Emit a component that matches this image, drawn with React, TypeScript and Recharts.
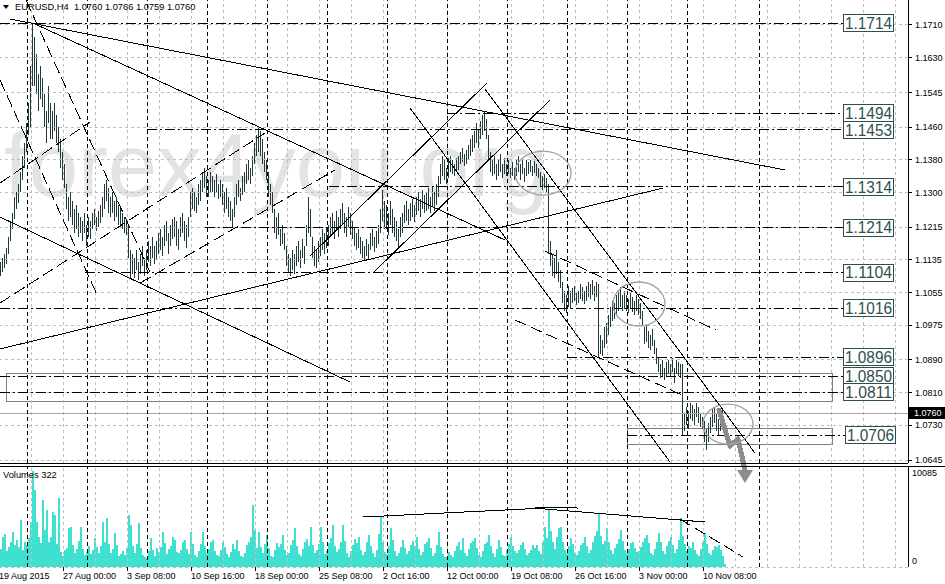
import React from 'react';
import { ComposedChart, Bar, XAxis, YAxis, ReferenceLine, ReferenceArea, ReferenceDot } from 'recharts';

const FONT = '"Liberation Sans", Arial, Helvetica, sans-serif';

// ---------- DATA (prices in 1/10000, H4 bars, index k) ----------
const highs = [
  11135,11130,11140,11150,11165,11190,11230,11250,11290,11300,
  11320,11350,11390,11420,11470,11520,11610,11714,11680,11640,
  11590,11610,11580,11540,11500,11560,11520,11500,11520,11490,
  11460,11430,11400,11370,11320,11290,11300,11280,11260,11270,
  11250,11240,11230,11250,11220,11240,11230,11250,11260,11240,
  11255,11270,11290,11320,11330,11310,11290,11300,11280,11290,
  11270,11260,11250,11240,11230,11220,11160,11150,11140,11160,
  11130,11150,11170,11140,11160,11180,11170,11190,11170,11180,
  11200,11210,11190,11220,11230,11200,11220,11235,11240,11230,
  11210,11240,11250,11230,11220,11240,11300,11310,11300,11290,
  11320,11330,11350,11360,11340,11330,11350,11340,11330,11345,
  11320,11330,11320,11300,11310,11290,11280,11260,11290,11320,
  11330,11310,11340,11350,11370,11380,11360,11390,11420,11440,
  11458,11450,11430,11400,11380,11350,11320,11300,11260,11240,
  11250,11210,11220,11200,11170,11150,11140,11160,11150,11170,
  11180,11160,11185,11170,11220,11290,11260,11190,11170,11160,
  11180,11190,11210,11200,11215,11220,11240,11250,11230,11255,
  11240,11260,11275,11250,11240,11265,11250,11230,11215,11200,
  11210,11190,11180,11170,11185,11175,11200,11210,11190,11205,
  11220,11260,11306,11280,11270,11250,11280,11260,11240,11230,
  11210,11240,11250,11270,11280,11260,11275,11285,11270,11290,
  11300,11285,11305,11295,11300,11310,11290,11315,11300,11320,
  11340,11370,11390,11380,11360,11385,11390,11380,11370,11385,
  11390,11400,11410,11395,11405,11415,11430,11440,11450,11470,
  11455,11475,11490,11497,11480,11440,11400,11380,11390,11370,
  11380,11395,11370,11385,11370,11380,11360,11375,11360,11380,
  11390,11370,11385,11360,11380,11375,11380,11365,11378,11370,
  11360,11350,11340,11345,11335,11320,11180,11150,11140,11160,
  11130,11110,11080,11060,11050,11070,11060,11065,11070,11055,
  11060,11075,11068,11060,11070,11080,11075,11086,11070,11080,
  11075,10950,10940,10970,10980,11000,11020,11035,11030,11050,
  11060,11069,11050,11060,11050,11040,11055,11045,11035,11050,
  11040,11030,11010,10970,10975,10960,10950,10965,10940,10920,
  10895,10880,10890,10870,10885,10890,10880,10895,10870,10890,
  10885,10880,10880,10760,10775,10765,10785,10780,10770,10785,
  10775,10760,10750,10740,10720,10735,10750,10770,10775,10760,
  10745,10765,10770,10766,
];
const lows = [
  11100,11095,11105,11115,11125,11150,11180,11210,11235,11260,
  11275,11300,11330,11360,11400,11440,11460,11560,11560,11540,
  11500,11530,11510,11460,11420,11470,11430,11430,11450,11420,
  11400,11360,11330,11310,11260,11230,11240,11220,11200,11210,
  11190,11200,11180,11200,11170,11190,11185,11210,11220,11205,
  11215,11225,11240,11260,11280,11250,11240,11250,11230,11240,
  11220,11215,11210,11200,11195,11140,11090,11100,11090,11110,
  11086,11100,11120,11095,11110,11130,11120,11140,11125,11135,
  11150,11160,11145,11170,11180,11150,11170,11185,11190,11170,
  11160,11190,11200,11180,11165,11190,11240,11260,11255,11250,
  11270,11280,11300,11310,11290,11290,11300,11300,11290,11300,
  11285,11290,11270,11250,11260,11240,11230,11215,11240,11270,
  11290,11280,11295,11300,11320,11330,11320,11340,11370,11390,
  11400,11390,11370,11350,11330,11290,11270,11250,11200,11185,
  11195,11170,11175,11160,11120,11105,11095,11110,11100,11120,
  11130,11115,11140,11125,11170,11200,11190,11140,11120,11115,
  11130,11145,11160,11150,11165,11170,11190,11200,11185,11205,
  11190,11210,11220,11200,11190,11215,11195,11185,11170,11160,
  11165,11150,11140,11135,11145,11138,11160,11170,11155,11165,
  11175,11200,11230,11210,11210,11195,11220,11200,11190,11180,
  11167,11190,11200,11225,11230,11220,11230,11240,11228,11245,
  11255,11240,11260,11250,11255,11260,11250,11265,11255,11270,
  11290,11320,11340,11330,11320,11335,11350,11345,11340,11350,
  11355,11370,11375,11365,11370,11380,11390,11400,11410,11420,
  11410,11430,11440,11450,11430,11380,11350,11340,11345,11330,
  11340,11350,11335,11345,11340,11345,11335,11340,11330,11340,
  11350,11330,11345,11325,11340,11345,11350,11340,11348,11340,
  11335,11315,11306,11310,11300,11150,11120,11095,11090,11100,
  11080,11065,11030,11010,11005,11020,11015,11030,11035,11025,
  11030,11040,11035,11028,11035,11045,11040,11050,11035,11045,
  10896,10905,10900,10920,10930,10950,10970,10985,10990,11000,
  11010,11020,11010,11015,11010,11005,11015,11008,11000,11010,
  11000,10990,10975,10930,10935,10920,10915,10925,10905,10880,
  10860,10845,10850,10840,10850,10855,10850,10860,10834,10855,
  10850,10845,10705,10715,10730,10720,10745,10740,10730,10750,
  10735,10726,10720,10690,10670,10690,10710,10725,10735,10715,
  10705,10715,10730,10759,
];
const volumes = [
  2500,1900,3200,3500,1700,2100,2600,3700,2300,2800,
  2100,4935,1800,2600,2300,3000,4760,10085,8050,4760,
  3100,2500,7035,3900,5985,2600,3200,5810,5460,2400,
  7210,1600,1200,1800,2000,4060,4235,2300,1500,1900,
  2700,4235,1900,1300,1600,2200,1400,1800,3010,2100,
  1500,2200,4760,2600,5110,2400,1500,1900,3535,2300,
  1200,1400,1700,1300,2000,5460,4410,2200,1500,2400,
  4585,2000,1300,1000,900,1700,3010,1800,1200,2000,
  1600,2100,3700,2500,1400,1900,2200,3200,2835,1600,
  1500,1800,2600,2835,1900,1400,3710,2400,1300,1100,
  1700,2400,3710,2200,1500,1900,2600,2835,1700,1300,
  1200,1800,2660,2100,1400,1100,1600,2400,1900,2835,
  1700,1200,1000,1500,2300,2600,3100,6510,3900,2000,
  3710,2100,1500,2400,3360,2000,1200,1000,1800,2500,
  2100,2400,3360,1800,1300,1500,2300,2800,4060,2200,
  1400,1200,1900,2600,2900,2200,4235,2300,1500,1800,
  2400,4235,2600,1400,1700,2500,3000,4410,2200,1600,
  1900,2600,4410,2700,1500,1100,1700,2300,2900,2500,
  3185,1800,1300,1600,2600,3360,2200,1500,1100,1800,
  3500,5285,2600,1600,1400,2200,4060,2800,1700,1200,
  1500,2100,2835,2000,1400,1700,2300,2700,2200,3185,
  1900,1300,1600,2400,2600,3010,2000,1200,1500,2300,
  3710,2100,1400,1100,1000,1610,1300,1100,1700,2200,
  2600,1800,3010,1500,1200,1900,2500,2700,3010,2000,
  1300,1100,1700,2400,2600,3360,2200,1500,1100,1900,
  2835,2100,1300,1200,1800,2400,3100,2200,1700,1500,
  1800,2300,2660,1900,1300,1500,1800,2300,2000,2310,
  1700,1400,2600,4235,3000,5985,3800,2600,1900,3200,
  4060,4235,2600,1800,1500,2200,3010,2400,1500,1300,
  1700,2300,2500,3185,2200,1500,1800,2600,3300,3800,
  5635,3300,2400,2700,4060,2600,1800,1400,2000,2400,
  2900,3885,2700,1800,1500,1900,2500,2660,2000,1600,
  1700,2100,2600,3000,3360,2500,1500,1300,1900,2600,
  3535,2600,1700,1400,2200,2700,3185,2300,1500,1900,
  2800,5110,3300,2400,1700,2200,2000,2660,1800,1400,
  1200,1900,2600,3535,2400,1500,1300,1800,2200,2135,
  2300,1800,1200,322,
];
const timeLabels = ['19 Aug 2015','27 Aug 00:00','3 Sep 08:00','10 Sep 16:00','18 Sep 00:00','25 Sep 08:00','2 Oct 16:00','12 Oct 00:00','19 Oct 08:00','26 Oct 16:00','3 Nov 00:00','10 Nov 08:00'];
const timeLabelKs = [0,32,64,96,128,160,192,224,256,288,320,352];
const priceTicks = [1.1710,1.1630,1.1545,1.1460,1.1380,1.1300,1.1215,1.1135,1.1055,1.0975,1.0890,1.0810,1.0730,1.0645];
const volumeTicks = [0, 10085];
const gridKs = [16,32,48,64,80,96,112,128,144,160,176,192,208,224,240,256,272,288,304,320,336,352,368,384,400,416,432,448];
const weekKs = [14,44,74,104,134,164,194,224,254,284,314,344,380];
const headerQuote = { symbol: 'EURUSD,H4', open: 1.0760, high: 1.0766, low: 1.0759, close: 1.0760 };
const lastPrice = 1.0760;
const lastVolume = 322;

const levelPrices = [1.1714,1.1494,1.1453,1.1314,1.1214,1.1104,1.1016,1.0896,1.0850,1.0811,1.0706];
const levelStartK = [0.5,224,74,165,103,43,0.5,284,0.5,0.5,314];
const levelEndK = [422,422,422,422,422,422,422,422,422,422,423];

const trendLines = [
  { k1: 5.5, p1: 1.17247, k2: 393, p2: 1.13550, dash: false },
  { k1: 18, p1: 1.17124, k2: 253, p2: 1.11836, dash: false },
  { k1: 0.5, p1: 1.09168, k2: 332, p2: 1.13109, dash: false },
  { k1: 0.5, p1: 1.12399, k2: 175.5, p2: 1.08360, dash: false },
  { k1: 187, p1: 1.11028, k2: 275.5, p2: 1.15264, dash: false },
  { k1: 155.5, p1: 1.11444, k2: 244, p2: 1.15680, dash: false },
  { k1: 205.5, p1: 1.15068, k2: 335.5, p2: 1.06401, dash: false },
  { k1: 243, p1: 1.15533, k2: 378, p2: 1.06621, dash: false },
  { k1: 0.5, p1: 1.15753, k2: 49.5, p2: 1.10441, dash: true },
  { k1: 13.5, p1: 1.17712, k2: 75.5, p2: 1.11053, dash: true },
  { k1: 0.5, p1: 1.13232, k2: 45.5, p2: 1.14725, dash: true },
  { k1: 0.5, p1: 1.10294, k2: 133, p2: 1.14456, dash: true },
  { k1: 70.5, p1: 1.10783, k2: 168, p2: 1.13550, dash: true },
  { k1: 273, p1: 1.11567, k2: 358.5, p2: 1.09633, dash: true },
  { k1: 258, p1: 1.09878, k2: 341.5, p2: 1.08041, dash: true },
];
const zones = [
  { k1: 3.5, k2: 416.5, p1: 1.07894, p2: 1.08580 },
  { k1: 314, k2: 416.5, p1: 1.06842, p2: 1.07233 },
];
const circleCenters = [
  { k: 272, p: 1.13476 },
  { k: 320, p: 1.10269 },
  { k: 364.5, p: 1.07331 },
];
const arrowPoints = [
  { k: 360, p: 1.07674 },
  { k: 365.5, p: 1.06793 },
  { k: 369.5, p: 1.06964 },
  { k: 373, p: 1.06205 },
];
const volumeLines = [
  { k1: 182, v1: 5250, k2: 273, v2: 6195, dash: false },
  { k1: 268, v1: 6300, k2: 289.5, v2: 6195, dash: false },
  { k1: 273, v1: 6090, k2: 353, v2: 4725, dash: false },
  { k1: 340.5, v1: 5040, k2: 372, v2: 1050, dash: true },
];

// ---------- STYLE ----------
const X_DOMAIN: [number, number] = [0.5, 454.5];
const P_DOMAIN: [number, number] = [1.06377, 1.17712];
const V_DOMAIN: [number, number] = [0, 10610];
const ELLIPSE_R = [[28, 22], [26, 22], [25, 20]];
const BAR_COLOR = '#1f3a3a';
const VOL_COLOR = '#40e0d0';
const GRID = '#c0c0c0';
const BOX = '#2f4f4f';

const TimeTick = (props: any) => {
  const { x, y, payload } = props;
  const idx = timeLabelKs.indexOf(payload.value);
  return (
    <text x={x} y={y} dy="0.71em" textAnchor="start" fontSize={9} fontFamily={FONT} fill="#000">
      {timeLabels[idx]}
    </text>
  );
};

const VolTick = (props: any) => {
  const { x, y, payload } = props;
  const dy = payload.value === 0 ? -6 : 2;
  return (
    <text x={x} y={y + dy} dy="0.355em" textAnchor="start" fontSize={9} fontFamily={FONT} fill="#000">
      {String(payload.value)}
    </text>
  );
};

function MainChart() {
  const data = highs.map((h, i) => ({ k: i, hl: [lows[i] / 10000, h / 10000] }));
  return (
    <ComposedChart width={945} height={490} data={data} margin={{ top: 0, right: 0, bottom: 27, left: 0 }}>
      <XAxis dataKey="k" type="number" domain={X_DOMAIN} allowDataOverflow hide />
      <YAxis
        orientation="right"
        width={37}
        domain={P_DOMAIN}
        allowDataOverflow
        ticks={priceTicks}
        interval={0}
        tickFormatter={(v: number) => v.toFixed(4)}
        tick={{ fontSize: 9, fill: '#000', fontFamily: FONT }}
        tickSize={4}
        tickMargin={3}
        axisLine={{ stroke: '#000' }}
        tickLine={{ stroke: '#000' }}
      />
      {priceTicks.map((p) => (
        <ReferenceLine key={'hg' + p} y={p} stroke={GRID} strokeDasharray="3 3" ifOverflow="hidden" />
      ))}
      {gridKs.map((k) => (
        <ReferenceLine key={'vg' + k} x={k} stroke={GRID} strokeDasharray="3 3" ifOverflow="hidden" />
      ))}
      <ReferenceLine y={lastPrice} stroke="#a8a8a8" ifOverflow="hidden" />
      <Bar dataKey="hl" barSize={1} fill={BAR_COLOR} isAnimationActive={false} />
      {weekKs.map((k) => (
        <ReferenceLine key={'wk' + k} x={k} stroke="#000" strokeDasharray="4 3" ifOverflow="hidden" />
      ))}
      {zones.map((z, i) => (
        <ReferenceArea key={'z' + i} x1={z.k1} x2={z.k2} y1={z.p1} y2={z.p2} fill="none" fillOpacity={0} stroke="#808080" strokeWidth={1} ifOverflow="hidden" />
      ))}
      {levelPrices.map((p, i) => (
        <ReferenceLine
          key={'lv' + i}
          segment={[{ x: levelStartK[i], y: p }, { x: levelEndK[i], y: p }]}
          stroke="#000"
          strokeDasharray="10 3 2 3"
          ifOverflow="hidden"
        />
      ))}
      {trendLines.map((t, i) => (
        <ReferenceLine
          key={'tl' + i}
          segment={[{ x: t.k1, y: t.p1 }, { x: t.k2, y: t.p2 }]}
          stroke="#000"
          strokeWidth={1}
          strokeDasharray={t.dash ? '12 5' : undefined}
          ifOverflow="hidden"
        />
      ))}
      {circleCenters.map((c, i) => (
        <ReferenceDot
          key={'c' + i}
          x={c.k}
          y={c.p}
          ifOverflow="visible"
          shape={(props: any) => (
            <ellipse cx={props.cx} cy={props.cy} rx={ELLIPSE_R[i][0]} ry={ELLIPSE_R[i][1]} fill="none" stroke="#a0a0a0" strokeWidth={1.3} />
          )}
        />
      ))}
      {arrowPoints.slice(1).map((pt, i) => (
        <ReferenceLine
          key={'ar' + i}
          segment={[{ x: arrowPoints[i].k, y: arrowPoints[i].p }, { x: pt.k, y: pt.p }]}
          stroke="#8c8c8c"
          strokeWidth={5}
          strokeLinecap="round"
          ifOverflow="visible"
        />
      ))}
      <ReferenceDot
        x={arrowPoints[arrowPoints.length - 1].k}
        y={arrowPoints[arrowPoints.length - 1].p}
        ifOverflow="visible"
        shape={(props: any) => (
          <polygon
            points={`${props.cx - 8},${props.cy} ${props.cx + 8},${props.cy} ${props.cx},${props.cy + 13}`}
            fill="#8c8c8c"
          />
        )}
      />
      {levelPrices.map((p, i) => (
        <ReferenceDot
          key={'bx' + i}
          x={levelEndK[i]}
          y={p}
          ifOverflow="visible"
          shape={(props: any) => (
            <g>
              <rect x={props.cx} y={props.cy - 8.5} width={50} height={17} fill="#fff" stroke={BOX} strokeWidth={1} />
              <text
                x={props.cx + 2}
                y={props.cy}
                dy="0.36em"
                fontSize={16}
                fontFamily={FONT}
                fill={BOX}
                textLength={47}
                lengthAdjust="spacingAndGlyphs"
              >
                {p.toFixed(4)}
              </text>
            </g>
          )}
        />
      ))}
      <ReferenceDot
        x={X_DOMAIN[1]}
        y={lastPrice}
        ifOverflow="visible"
        shape={(props: any) => (
          <g>
            <rect x={props.cx + 1} y={props.cy - 6} width={37} height={12} fill="#000" />
            <text x={props.cx + 6} y={props.cy} dy="0.355em" fontSize={9} fontFamily={FONT} fill="#fff">
              {lastPrice.toFixed(4)}
            </text>
          </g>
        )}
      />
    </ComposedChart>
  );
}

function VolumeChart() {
  const data = volumes.map((v, i) => ({ k: i, v }));
  return (
    <ComposedChart width={945} height={118} data={data} margin={{ top: 0, right: 0, bottom: 0, left: 0 }}>
      <XAxis
        dataKey="k"
        type="number"
        domain={X_DOMAIN}
        allowDataOverflow
        ticks={timeLabelKs}
        interval={0}
        tick={TimeTick}
        tickSize={4}
        tickMargin={2}
        height={17}
        axisLine={false}
        tickLine={{ stroke: '#000' }}
      />
      <YAxis
        orientation="right"
        width={37}
        domain={V_DOMAIN}
        allowDataOverflow
        ticks={volumeTicks}
        interval={0}
        tick={VolTick}
        tickSize={4}
        tickMargin={0}
        tickLine={false}
        axisLine={{ stroke: '#000' }}
      />
      {gridKs.map((k) => (
        <ReferenceLine key={'vg' + k} x={k} stroke={GRID} strokeDasharray="3 3" ifOverflow="hidden" />
      ))}
      <ReferenceLine y={0} stroke={GRID} strokeDasharray="3 3" ifOverflow="visible" />
      <Bar dataKey="v" barSize={2} fill={VOL_COLOR} isAnimationActive={false} />
      {weekKs.map((k) => (
        <ReferenceLine key={'wk' + k} x={k} stroke="#000" strokeDasharray="4 3" ifOverflow="hidden" />
      ))}
      {volumeLines.map((t, i) => (
        <ReferenceLine
          key={'vl' + i}
          segment={[{ x: t.k1, y: t.v1 }, { x: t.k2, y: t.v2 }]}
          stroke="#000"
          strokeDasharray={t.dash ? '12 5' : undefined}
          ifOverflow="hidden"
        />
      ))}
    </ComposedChart>
  );
}

export default function App() {
  const header = `${headerQuote.symbol}  ${headerQuote.open.toFixed(4)} ${headerQuote.high.toFixed(4)} ${headerQuote.low.toFixed(4)} ${headerQuote.close.toFixed(4)}`;
  return (
    <div style={{ position: 'relative', width: 945, height: 584, background: '#fff', overflow: 'hidden' }}>
      <style>{'body{margin:0;} .mt4 line, .mt4 path, .mt4 rect { shape-rendering: crispEdges; }'}</style>
      <svg width={945} height={584} style={{ position: 'absolute', left: 0, top: 0 }}>
        <text x={4} y={196} fontSize={89} fontFamily={FONT} fill="#e3e3e3">forex4you.org</text>
      </svg>
      <div className="mt4" style={{ position: 'absolute', left: 0, top: 466 }}>
        <VolumeChart />
      </div>
      <div className="mt4" style={{ position: 'absolute', left: 0, top: 0 }}>
        <MainChart />
      </div>
      <svg width={945} height={584} style={{ position: 'absolute', left: 0, top: 0, pointerEvents: 'none' }}>
        <rect x={0} y={463} width={908} height={1} fill="#000" shapeRendering="crispEdges" />
        <rect x={0} y={466} width={945} height={1} fill="#000" shapeRendering="crispEdges" />
        <polygon points="3,5 9,5 6,9" fill="#000" />
        <text x={15} y={10.3} fontSize={9.3} fontFamily={FONT} fill="#000" style={{ whiteSpace: 'pre' }}>
          {header}
        </text>
        <text x={3} y={478.3} fontSize={9.3} fontFamily={FONT} fill="#000">
          {`Volumes ${lastVolume}`}
        </text>
      </svg>
    </div>
  );
}
